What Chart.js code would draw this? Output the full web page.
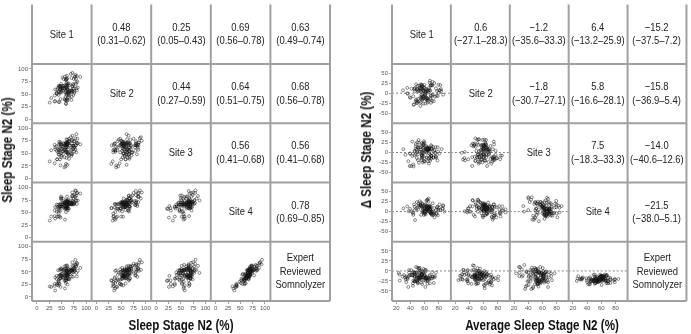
<!DOCTYPE html>
<html>
<head>
<meta charset="utf-8">
<script src="https://cdn.jsdelivr.net/npm/chart.js@4.4.1/dist/chart.umd.min.js"></script>
<style>
  html, body { margin: 0; padding: 0; background: #fff; }
  body { width: 691px; height: 334px; position: relative; overflow: hidden;
         font-family: "Liberation Sans", Arial, sans-serif; color: #222; }
  canvas { position: absolute; top: 0; }
  .cell { position: absolute; display: flex; align-items: center; justify-content: center;
          text-align: center; font-size: 11.5px; line-height: 13.4px; color: #222; white-space: nowrap; }
  .cell > div { transform: scaleX(0.82); }
  .title { position: absolute; font-weight: bold; font-size: 14.5px; white-space: nowrap; color: #111; }
</style>
</head>
<body>
<canvas id="leftChart" width="345" height="334" style="left:0"></canvas>
<canvas id="rightChart" width="346" height="334" style="left:345px"></canvas>
<div class="title" style="left:181px; top:325px; transform:translate(-50%,-50%) scaleX(0.8)">Sleep Stage N2 (%)</div>
<div class="title" style="left:542px; top:325px; transform:translate(-50%,-50%) scaleX(0.8)">Average Sleep Stage N2 (%)</div>
<div class="title" style="left:7px; top:150px; transform:translate(-50%,-50%) rotate(-90deg) scaleX(0.8)">Sleep Stage N2 (%)</div>
<div class="title" style="left:366px; top:150px; transform:translate(-50%,-50%) rotate(-90deg) scaleX(0.8)">Δ Sleep Stage N2 (%)</div>
<script>
// N2 % per recording, one array per scorer
const site1 = [67,47,74,36,76,59,48,88,29,70, 59,62,59,60,57,55,62,78,51,59,
  46,79,64,57,49,80,26,65,73,40, 56,59,60,72,70,41,65,79,36,43,
  71,56,81,78,59,52,61,56,69,47, 76,37,69,47,70,75,37,70,73,52,
  60,58,61,53,70,40,81,44,76,50, 61,56,48,65,53,83,45,63,54,63,
  65,45,80,44,49,65,72,60,59,71, 41,49,77,61,49,59,62,57,63,61,
  46,60,66,59,62,44,72,74,44,53, 82,62,49,63,63,62,61,60,47,74];
const site2 = [56,65,68,47,52,63,64,84,42,54, 78,69,30,66,38,61,37,85,62,38,
  66,80,51,85,53,61,33,71,55,52, 61,31,64,92,55,59,48,70,35,62,
  57,67,57,88,68,66,40,40,90,53, 61,36,57,60,57,80,59,38,70,83,
  62,44,59,57,82,52,86,48,55,58, 80,61,40,50,61,63,55,55,80,58,
  53,65,73,34,66,67,65,48,79,45, 50,61,84,37,70,54,61,53,59,86,
  34,72,43,78,53,66,66,48,54,66, 75,67,55,43,71,50,81,51,59,61];
const site3 = [65,70,61,30,74,57,72,68,56,49, 62,77,29,62,56,57,69,57,58,53,
  57,66,70,66,42,88,34,46,65,55, 62,66,41,75,65,38,79,66,67,52,
  69,42,70,80,70,54,63,22,82,60, 54,58,57,68,45,74,62,56,58,64,
  78,24,71,63,48,64,71,67,63,45, 68,70,26,75,48,70,73,50,70,53,
  73,47,52,56,67,39,85,52,55,77, 38,68,61,70,64,70,27,68,48,72,
  52,52,74,66,70,48,49,65,58,55, 79,70,50,62,51,68,66,68,38,65];
const site4 = [70,67,78,54,69,70,54,88,42,70, 65,73,59,69,36,65,67,81,67,51,
  63,93,66,71,62,74,34,70,67,52, 69,59,66,90,67,61,69,74,43,66,
  70,63,67,94,62,70,66,58,78,66, 67,38,67,62,69,85,61,67,73,63,
  75,57,71,61,66,66,89,59,71,62, 70,70,40,71,66,74,61,65,70,66,
  72,55,84,48,79,58,83,58,65,67, 42,76,82,60,82,60,63,69,55,82,
  42,70,67,73,71,52,84,66,42,78, 89,61,78,58,75,58,73,69,62,71];
const somnolyzer = [45,44,61,26,58,44,44,58,20,53, 43,61,33,56,17,53,37,64,42,28,
  54,65,36,56,38,48,21,48,40,36, 55,33,49,69,41,27,55,60,22,53,
  52,44,41,74,37,47,53,32,54,43, 52,13,55,37,53,55,39,52,53,40,
  52,33,50,38,53,42,68,27,52,46, 43,61,20,50,39,52,42,48,50,43,
  49,35,62,30,55,36,62,35,47,48, 24,55,56,39,57,43,42,41,46,52,
  26,51,35,62,53,33,53,49,23,54, 66,47,43,44,56,25,63,43,37,57];

const scores = [site1, site2, site3, site4, somnolyzer];
const scorerLabels = [['Site 1'], ['Site 2'], ['Site 3'], ['Site 4'], ['Expert', 'Reviewed', 'Somnolyzer']];

// upper triangle, pair order (1,2) (1,3) (1,4) (1,5) (2,3) (2,4) (2,5) (3,4) (3,5) (4,5)
const corrText = [
  ['0.48', '(0.31–0.62)'], ['0.25', '(0.05–0.43)'], ['0.69', '(0.56–0.78)'], ['0.63', '(0.49–0.74)'],
  ['0.44', '(0.27–0.59)'], ['0.64', '(0.51–0.75)'], ['0.68', '(0.56–0.78)'],
  ['0.56', '(0.41–0.68)'], ['0.56', '(0.41–0.68)'],
  ['0.78', '(0.69–0.85)']
];
const biasText = [
  ['0.6', '(−27.1–28.3)'], ['−1.2', '(−35.6–33.3)'], ['6.4', '(−13.2–25.9)'], ['−15.2', '(−37.5–7.2)'],
  ['−1.8', '(−30.7–27.1)'], ['5.8', '(−16.6–28.1)'], ['−15.8', '(−36.9–5.4)'],
  ['7.5', '(−18.3–33.3)'], ['−14.0', '(−40.6–12.6)'],
  ['−21.5', '(−38.0–5.1)']
];

const leftTicks = [0, 25, 50, 75, 100];
const leftXRange = [-10, 111];
const leftYRange = [-8, 110];
const rightXTicks = [20, 40, 60, 80];
const rightYTicks = [-50, -25, 0, 25, 50];
const rightXRange = [14, 97];
const rightYRange = [-75, 73];

Chart.defaults.font.family = '"Liberation Sans", Arial, sans-serif';

function makeScales(xr, yr, xt, yt) {
  const scales = {};
  for (let i = 1; i <= 5; i++) {
    scales['x' + i] = {
      type: 'linear', position: 'bottom', stack: 'cols', stackWeight: 1, weight: i,
      min: xr[0], max: xr[1],
      afterBuildTicks: s => { s.ticks = xt.map(v => ({ value: v })); },
      afterFit: s => { s.height = 13; },
      border: { display: false },
      grid: { display: i < 5, drawOnChartArea: false, tickLength: 3, color: '#666', lineWidth: 0.6 },
      ticks: { display: i < 5, padding: 1, font: { size: 6 }, color: '#555', maxRotation: 0, autoSkip: false }
    };
    scales['y' + i] = {
      type: 'linear', position: 'left', stack: 'rows', stackWeight: 1, weight: 6 - i,
      min: yr[0], max: yr[1],
      afterBuildTicks: s => { s.ticks = yt.map(v => ({ value: v })); },
      afterFit: s => { s.width = 14; },
      border: { display: false },
      grid: { display: i > 1, drawOnChartArea: false, tickLength: 3, color: '#666', lineWidth: 0.6 },
      ticks: { display: i > 1, padding: 1, font: { size: 6 }, color: '#555', autoSkip: false }
    };
  }
  return scales;
}

const pointLook = {
  pointRadius: 1.45, pointBorderWidth: 0.55,
  borderColor: 'rgba(20,20,20,0.9)', backgroundColor: 'rgba(0,0,0,0)'
};

// gray frame round every panel
const panelBorders = {
  id: 'panelBorders',
  afterDatasetsDraw(chart) {
    const ctx = chart.ctx, a = chart.chartArea;
    ctx.save();
    ctx.strokeStyle = '#a0a0a0';
    ctx.lineWidth = 2;
    ctx.beginPath();
    for (let i = 1; i <= 5; i++) {
      const xs = chart.scales['x' + i], ys = chart.scales['y' + i];
      ctx.moveTo(xs.left, a.top); ctx.lineTo(xs.left, a.bottom);
      if (i > 1) { ctx.moveTo(a.left, ys.top); ctx.lineTo(a.right, ys.top); }
    }
    ctx.moveTo(a.right, a.top); ctx.lineTo(a.right, a.bottom);
    ctx.moveTo(a.left, a.bottom); ctx.lineTo(a.right, a.bottom);
    ctx.stroke();
    ctx.restore();
  }
};

function buildChart(id, datasets, scales, padLeft, padRight) {
  return new Chart(document.getElementById(id), {
    type: 'scatter',
    data: { datasets },
    options: {
      responsive: false, animation: false, events: [],
      layout: { padding: { left: padLeft, right: padRight, top: 0, bottom: 20 } },
      plugins: { legend: { display: false }, tooltip: { enabled: false } },
      scales
    },
    plugins: [panelBorders]
  });
}

function addCell(chart, offset, r, c, lines) {
  const xs = chart.scales['x' + (c + 1)], ys = chart.scales['y' + (r + 1)];
  const d = document.createElement('div');
  d.className = 'cell';
  d.style.left = (offset + xs.left) + 'px';
  d.style.top = ys.top + 'px';
  d.style.width = xs.width + 'px';
  d.style.height = ys.height + 'px';
  const inner = document.createElement('div');
  lines.forEach((t, k) => {
    if (k) inner.appendChild(document.createElement('br'));
    inner.appendChild(document.createTextNode(t));
  });
  d.appendChild(inner);
  document.body.appendChild(d);
}

// lower triangle: scorer vs scorer (left), mean vs difference (right)
const leftSets = [];
const rightSets = [];
for (let r = 1; r < 5; r++) {
  for (let c = 0; c < r; c++) {
    const axes = { xAxisID: 'x' + (c + 1), yAxisID: 'y' + (r + 1) };
    leftSets.push({
      ...axes, ...pointLook,
      data: scores[c].map((v, i) => ({ x: v, y: scores[r][i] }))
    });
    rightSets.push({
      ...axes, showLine: true, pointRadius: 0, borderColor: '#666', borderWidth: 0.8, borderDash: [2, 2],
      data: [{ x: rightXRange[0], y: 0 }, { x: rightXRange[1], y: 0 }]
    });
    rightSets.push({
      ...axes, ...pointLook,
      data: scores[c].map((v, i) => ({ x: (v + scores[r][i]) / 2, y: scores[r][i] - v }))
    });
  }
}

const leftChart = buildChart('leftChart', leftSets, makeScales(leftXRange, leftYRange, leftTicks, leftTicks), 18, 15);
const rightChart = buildChart('rightChart', rightSets, makeScales(rightXRange, rightYRange, rightXTicks, rightYTicks), 33, 1);

let k = 0;
for (let r = 0; r < 5; r++) {
  addCell(leftChart, 0, r, r, scorerLabels[r]);
  addCell(rightChart, 345, r, r, scorerLabels[r]);
}
for (let r = 0; r < 4; r++) {
  for (let c = r + 1; c < 5; c++) {
    addCell(leftChart, 0, r, c, corrText[k]);
    addCell(rightChart, 345, r, c, biasText[k]);
    k++;
  }
}
</script>
</body>
</html>
